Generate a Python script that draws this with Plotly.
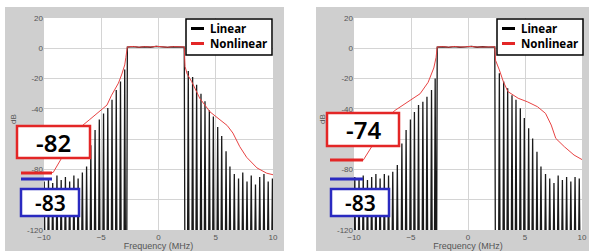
import plotly.graph_objects as go

W, H = 589, 251

# ---------------- data ----------------
# Panel A (left) -- linear spectrum: spectral-line peaks outside the band
A_LIN_SPIKE_F = [-9.98, -9.61, -9.24, -8.87, -8.50, -8.13, -7.76, -7.39, -7.02, -6.65,
                 -6.28, -5.91, -5.54, -5.17, -4.80, -4.43, -4.06, -3.69, -3.32, -2.95,
                 2.60, 2.98, 3.33, 3.71, 4.06, 4.44, 4.79, 5.17, 5.52, 5.90,
                 6.24, 6.62, 6.99, 7.36, 7.73, 8.10, 8.47, 8.84, 9.21, 9.58, 9.95]
A_LIN_SPIKE_DB = [-88, -86, -89, -84, -87, -85, -88, -84, -86, -82,
                  -78, -64, -54, -47, -43, -39.5, -34, -27.5, -22, -14,
                  -15, -19, -24, -30, -35, -41, -45, -52, -58, -68,
                  -78, -83, -86, -82, -88, -84, -90, -85, -83, -88, -86]
# Panel A -- linear spectrum inside the occupied band (edges fall to the floor)
A_LIN_BAND_F = [-2.77, -2.72, -2.2, -1.7, -1.2, -0.7, -0.2, 0.3, 0.8, 1.3, 1.8, 2.25, 2.30]
A_LIN_BAND_DB = [-130, 0.8, 1.1, 0.6, 1.0, 0.7, 1.2, 0.8, 0.6, 1.0, 0.9, 0.8, -130]
# Panel A -- nonlinear spectrum
A_NL_F = [-10.0, -9.2, -8.5, -7.7, -6.8, -6.0, -5.2, -4.5, -4.1, -3.5, -3.2, -2.95, -2.85,
          -2.72, -2.2, -1.7, -1.2, -0.7, -0.2, 0.3, 0.8, 1.3, 1.8, 2.25,
          2.32, 2.5, 2.9, 3.6, 4.5, 5.0, 5.4, 6.0, 6.5, 7.1, 7.7, 8.25, 8.6, 9.45, 10.0]
A_NL_DB = [-82, -82, -73, -63, -52, -47, -42, -37.5, -31, -23, -17, -11, -6,
           0.9, 1.2, 0.7, 1.1, 0.8, 1.3, 0.9, 0.7, 1.1, 1.0, 0.9,
           -12, -17, -22, -33, -42, -45, -48, -51, -56, -65, -72, -76, -79, -82.5, -83.5]

# Panel B (right) -- linear spectrum
B_LIN_SPIKE_F = [-9.93, -9.56, -9.19, -8.82, -8.45, -8.08, -7.71, -7.34, -6.97, -6.60,
                 -6.20, -5.80, -5.43, -5.05, -4.70, -4.34, -3.96, -3.60, -3.20, -2.88,
                 2.75, 3.13, 3.48, 3.86, 4.21, 4.59, 4.94, 5.32, 5.67, 6.05,
                 6.40, 6.80, 7.17, 7.54, 7.91, 8.28, 8.65, 9.02, 9.39, 9.76]
B_LIN_SPIKE_DB = [-85, -86, -84, -87, -85, -83, -86, -83, -84, -81.5,
                  -77, -62.8, -54, -47, -42, -37.5, -35.3, -32, -27.6, -20,
                  -16.5, -22, -26.4, -31, -34, -39.6, -46, -52.8, -59.5, -68.3,
                  -78, -83, -86, -89, -84, -87, -85, -88, -85, -86]
B_LIN_BAND_F = [-2.75, -2.70, -2.2, -1.7, -1.2, -0.7, -0.2, 0.3, 0.8, 1.3, 1.8, 2.35, 2.40]
B_LIN_BAND_DB = [-130, 0.8, 1.0, 0.6, 1.1, 0.7, 0.9, 1.2, 0.7, 1.0, 0.8, 0.9, -130]
# Panel B -- nonlinear spectrum
B_NL_F = [-10.0, -9.2, -8.2, -7.4, -6.7, -6.4, -5.8, -5.2, -4.7, -4.2, -3.5, -3.0, -2.8,
          -2.70, -2.2, -1.7, -1.2, -0.7, -0.2, 0.3, 0.8, 1.3, 1.8, 2.35,
          2.42, 2.75, 3.1, 3.5, 4.4, 5.2, 6.1, 6.8, 7.3, 7.7, 8.45, 9.3, 10.0]
B_NL_DB = [-74, -74, -62, -52, -43, -41, -38, -35.3, -33, -30, -22.5, -13, -6,
           0.9, 1.1, 0.7, 1.2, 0.8, 1.0, 1.2, 0.8, 1.1, 0.9, 1.0,
           -8, -14.3, -22, -28.6, -33, -35.3, -38.6, -43, -50.7, -59.5, -65, -70.5, -73.5]

NULL_DB = -130  # the comb nulls fall below the bottom of the axis

MARKERS_A = {"nl": "-82", "lin": "-83"}
MARKERS_B = {"nl": "-74", "lin": "-83"}

X_TICKS = [-10, -5, 0, 5, 10]
Y_TICKS = [20, 0, -20, -40, -60, -80, -100, -120]
# -60 and -100 are hidden behind the level boxes in the picture
Y_TICK_TEXT = ["20", "0", "-20", "-40", "", "-80", "", "-120"]

SPIKE_HALF_WIDTH = 0.06  # MHz, drawing width of each spectral line


def spectrum(spike_f, spike_db, band_f, band_db):
    pts = []
    for f, d in zip(spike_f, spike_db):
        pts += [(f - SPIKE_HALF_WIDTH, NULL_DB), (f, d), (f + SPIKE_HALF_WIDTH, NULL_DB)]
    pts += list(zip(band_f, band_db))
    pts.sort(key=lambda p: p[0])
    return [p[0] for p in pts], [p[1] for p in pts]


def px(x):
    return x / W


def py(y):
    return 1 - y / H


RED = "#e32626"
LINE_RED = "#e84343"
BLUE = "#2a2ac0"
TICK_FONT = dict(size=8, color="#555555", family="Liberation Sans")

fig = go.Figure()

panels = [
    ("x", "y", spectrum(A_LIN_SPIKE_F, A_LIN_SPIKE_DB, A_LIN_BAND_F, A_LIN_BAND_DB),
     (A_NL_F, A_NL_DB)),
    ("x2", "y2", spectrum(B_LIN_SPIKE_F, B_LIN_SPIKE_DB, B_LIN_BAND_F, B_LIN_BAND_DB),
     (B_NL_F, B_NL_DB)),
]
for xa, ya, (lf, ldb), (nf, ndb) in panels:
    fig.add_trace(go.Scatter(x=lf, y=ldb, mode="lines", xaxis=xa, yaxis=ya, name="Linear",
                             line=dict(color="#1a1a1a", width=1.3), showlegend=False,
                             hoverinfo="skip"))
    fig.add_trace(go.Scatter(x=nf, y=ndb, mode="lines", xaxis=xa, yaxis=ya, name="Nonlinear",
                             line=dict(color=LINE_RED, width=1), showlegend=False,
                             hoverinfo="skip"))

# plot area pixel geometry
A_X0, A_X1 = 44, 273
B_X0, B_X1 = 354, 582
P_Y0, P_Y1 = 18, 230

axis_common = dict(range=[-10, 10], tickvals=X_TICKS, showgrid=True, gridcolor="#d4d4d4",
                   gridwidth=1, zeroline=False, showline=False, ticks="", automargin=False,
                   tickfont=TICK_FONT, ticklabelstandoff=1,
                   title=dict(text="Frequency (MHz)",
                              font=dict(size=9, color="#555555", family="Liberation Sans"),
                              standoff=4))
yaxis_common = dict(range=[-120, 20], tickvals=Y_TICKS, ticktext=Y_TICK_TEXT, showgrid=True,
                    gridcolor="#d4d4d4", gridwidth=1, zeroline=False, showline=False,
                    ticks="", automargin=False, tickfont=TICK_FONT)

fig.update_layout(
    width=W, height=H,
    margin=dict(l=0, r=0, t=0, b=0, autoexpand=False),
    paper_bgcolor="white", plot_bgcolor="white",
    showlegend=False,
    xaxis=dict(domain=[px(A_X0), px(A_X1)], anchor="y", **axis_common),
    yaxis=dict(domain=[py(P_Y1), py(P_Y0)], anchor="x", **yaxis_common),
    xaxis2=dict(domain=[px(B_X0), px(B_X1)], anchor="y2", **axis_common),
    yaxis2=dict(domain=[py(P_Y1), py(P_Y0)], anchor="x2", **yaxis_common),
)

shapes = []
annotations = []

# grey frames around each plot, and white plot areas
for gx0, gx1, ax0, ax1 in [(5, 284, A_X0, A_X1), (316, 589, B_X0, B_X1)]:
    shapes.append(dict(type="rect", xref="paper", yref="paper", x0=px(gx0), x1=px(gx1),
                       y0=0, y1=py(7), fillcolor="#cfcfcf", line=dict(width=0), layer="below"))
    shapes.append(dict(type="rect", xref="paper", yref="paper", x0=px(ax0), x1=px(ax1),
                       y0=py(P_Y1), y1=py(P_Y0), fillcolor="white", line=dict(width=0),
                       layer="below"))

# "dB" axis labels
for xl in (13, 322):
    annotations.append(dict(xref="paper", yref="paper", x=px(xl), y=py(119), text="dB",
                            textangle=-90, showarrow=False, xanchor="center", yanchor="middle",
                            font=dict(size=8, color="#555555", family="Liberation Sans")))

# legends (one per panel)
LEG_FONT = dict(size=11.5, color="black", family="Noto Sans", weight="bold")
for off in (0, 311):
    shapes.append(dict(type="rect", xref="paper", yref="paper", x0=px(186 + off),
                       x1=px(272 + off), y0=py(55), y1=py(19), fillcolor="white",
                       line=dict(color="black", width=1.5)))
    for yy, name, col in ((28.5, "Linear", "black"), (43.5, "Nonlinear", RED)):
        shapes.append(dict(type="line", xref="paper", yref="paper", x0=px(191 + off),
                           x1=px(204 + off), y0=py(yy), y1=py(yy),
                           line=dict(color=col, width=3)))
        annotations.append(dict(xref="paper", yref="paper", x=px(208 + off), y=py(yy),
                                text=name, showarrow=False, xanchor="left", yanchor="middle",
                                font=LEG_FONT))


def marker_group(box_red, box_blue, line_red_y, line_blue_y, lx0, lx1, texts):
    rx0, ry0, rx1, ry1 = box_red
    bx0, by0, bx1, by1 = box_blue
    shapes.append(dict(type="line", xref="paper", yref="paper", x0=px(lx0), x1=px(lx1),
                       y0=py(line_red_y), y1=py(line_red_y), line=dict(color=RED, width=3)))
    shapes.append(dict(type="line", xref="paper", yref="paper", x0=px(lx0), x1=px(lx1),
                       y0=py(line_blue_y), y1=py(line_blue_y), line=dict(color=BLUE, width=3)))
    shapes.append(dict(type="rect", xref="paper", yref="paper", x0=px(rx0), x1=px(rx1),
                       y0=py(ry1), y1=py(ry0), fillcolor="white",
                       line=dict(color=RED, width=2.5)))
    shapes.append(dict(type="rect", xref="paper", yref="paper", x0=px(bx0), x1=px(bx1),
                       y0=py(by1), y1=py(by0), fillcolor="white",
                       line=dict(color=BLUE, width=2.5)))
    annotations.append(dict(xref="paper", yref="paper", x=px((rx0 + rx1) / 2),
                            y=py((ry0 + ry1) / 2), text=texts["nl"], showarrow=False,
                            xanchor="center", yanchor="middle",
                            font=dict(size=24, color="black", family="Noto Sans", weight=600)))
    annotations.append(dict(xref="paper", yref="paper", x=px((bx0 + bx1) / 2),
                            y=py((by0 + by1) / 2), text=texts["lin"], showarrow=False,
                            xanchor="center", yanchor="middle",
                            font=dict(size=21, color="black", family="Noto Sans", weight=600)))


marker_group((17, 126, 90, 158), (21, 189, 79, 216), 173, 179, 21, 52, MARKERS_A)
marker_group((327, 113, 399, 146), (331, 189, 389, 216), 160, 179, 330, 363, MARKERS_B)

fig.update_layout(shapes=shapes, annotations=annotations)

# the page's default 8px body margin would shift the figure; remove it
fig.write_html("out.html", config={"displayModeBar": False},
               post_script="document.body.style.margin='0';")
